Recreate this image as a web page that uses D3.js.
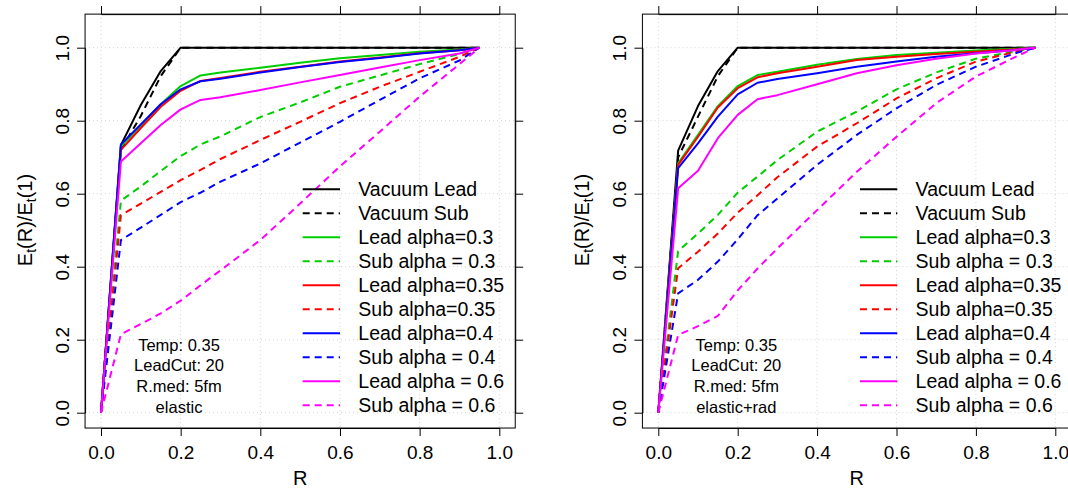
<!DOCTYPE html>
<html><head><meta charset="utf-8">
<script src="https://cdn.jsdelivr.net/npm/d3@7"></script>
<style>
body{margin:0;background:#fff}
svg{display:block}
text{font-family:"Liberation Sans",Arial,Helvetica,sans-serif;fill:#000}
</style>
</head><body><svg id="c" width="1068" height="488"></svg>
<script>
// ---------- data ----------
const R = [0, 0.05, 0.1, 0.15, 0.2, 0.25, 0.3, 0.4, 0.5, 0.6, 0.7, 0.8, 0.9, 0.95];
const xTicks = [0, 0.2, 0.4, 0.6, 0.8, 1.0];
const yTicks = [0, 0.2, 0.4, 0.6, 0.8, 1.0];
const tickLabels = ["0.0", "0.2", "0.4", "0.6", "0.8", "1.0"];
const seriesNames = ["Vacuum Lead", "Vacuum Sub", "Lead alpha=0.3", "Sub alpha = 0.3", "Lead alpha=0.35",
  "Sub alpha=0.35", "Lead alpha=0.4", "Sub alpha = 0.4", "Lead alpha = 0.6", "Sub alpha = 0.6"];
const seriesColors = ["#000000", "#000000", "#00CD00", "#00CD00", "#FF0000", "#FF0000", "#0000FF", "#0000FF", "#FF00FF", "#FF00FF"];
const seriesDashed = [false, true, false, true, false, true, false, true, false, true];

// left panel (elastic)
const vacLeadL = [0, 0.733, 0.843, 0.936, 1, 1, 1, 1, 1, 1, 1, 1, 1, 1];
const vacSubL  = [0, 0.720, 0.813, 0.922, 1, 1, 1, 1, 1, 1, 1, 1, 1, 1];
const lead03L  = [0, 0.729, 0.787, 0.845, 0.895, 0.924, 0.932, 0.945, 0.959, 0.971, 0.980, 0.989, 0.995, 1];
const sub03L   = [0, 0.581, 0.620, 0.662, 0.703, 0.735, 0.757, 0.810, 0.850, 0.893, 0.924, 0.955, 0.983, 1];
const lead035L = [0, 0.720, 0.780, 0.838, 0.882, 0.909, 0.917, 0.934, 0.948, 0.962, 0.973, 0.985, 0.993, 1];
const sub035L  = [0, 0.541, 0.573, 0.605, 0.637, 0.665, 0.695, 0.747, 0.797, 0.848, 0.893, 0.934, 0.975, 1];
const lead04L  = [0, 0.735, 0.790, 0.845, 0.886, 0.908, 0.915, 0.932, 0.947, 0.961, 0.972, 0.984, 0.993, 1];
const sub04L   = [0, 0.473, 0.507, 0.542, 0.577, 0.603, 0.633, 0.683, 0.740, 0.797, 0.857, 0.916, 0.965, 1];
const lead06L  = [0, 0.688, 0.738, 0.788, 0.831, 0.857, 0.864, 0.884, 0.905, 0.925, 0.946, 0.966, 0.984, 1];
const sub06L   = [0, 0.215, 0.243, 0.272, 0.307, 0.349, 0.390, 0.473, 0.573, 0.675, 0.770, 0.866, 0.955, 1];
const notesL = ["Temp: 0.35", "LeadCut: 20", "R.med: 5fm", "elastic"];

// right panel (elastic+rad)
const vacLeadR = [0, 0.718, 0.840, 0.936, 1, 1, 1, 1, 1, 1, 1, 1, 1, 1];
const vacSubR  = [0, 0.700, 0.811, 0.922, 1, 1, 1, 1, 1, 1, 1, 1, 1, 1];
const lead03R  = [0, 0.683, 0.761, 0.840, 0.895, 0.925, 0.934, 0.953, 0.969, 0.980, 0.986, 0.992, 0.997, 1];
const sub03R   = [0, 0.443, 0.491, 0.542, 0.603, 0.647, 0.692, 0.770, 0.825, 0.886, 0.932, 0.970, 0.990, 1];
const lead035R = [0, 0.679, 0.756, 0.836, 0.889, 0.919, 0.930, 0.948, 0.966, 0.975, 0.983, 0.989, 0.996, 1];
const sub035R  = [0, 0.396, 0.441, 0.491, 0.548, 0.596, 0.645, 0.729, 0.793, 0.861, 0.916, 0.962, 0.989, 1];
const lead04R  = [0, 0.670, 0.738, 0.811, 0.872, 0.904, 0.914, 0.930, 0.948, 0.962, 0.975, 0.985, 0.994, 1];
const sub04R   = [0, 0.327, 0.364, 0.414, 0.475, 0.541, 0.587, 0.679, 0.761, 0.834, 0.898, 0.948, 0.985, 1];
const lead06R  = [0, 0.615, 0.663, 0.752, 0.816, 0.859, 0.870, 0.900, 0.930, 0.952, 0.970, 0.984, 0.994, 1];
const sub06R   = [0, 0.213, 0.237, 0.265, 0.335, 0.395, 0.450, 0.555, 0.660, 0.756, 0.848, 0.921, 0.975, 1];
const notesR = ["Temp: 0.35", "LeadCut: 20", "R.med: 5fm", "elastic+rad"];

// ---------- drawing ----------
const svg = d3.select("#c");
svg.append("rect").attr("width", 1068).attr("height", 488).attr("fill", "#fff");

const FS_TICK = 19, FS_LEG = 19.5, FS_NOTE = 16.5, FS_TITLE = 20;
const DASH = "7,5";

function drawPanel(px0, px1, seriesList, notes) {
  const x = d3.scaleLinear().domain([0, 1]).range([px0, px1]);
  const y = d3.scaleLinear().domain([0, 1]).range([412.7, 47.7]);
  const bx0 = x(-0.04), bx1 = x(1.04), by0 = y(1.092), by1 = y(-0.042);
  const g = svg.append("g");

  // grid
  g.selectAll(".gx").data(xTicks).join("line")
    .attr("x1", d => x(d)).attr("x2", d => x(d)).attr("y1", by0).attr("y2", by1)
    .attr("stroke", "#d3d3d3").attr("stroke-width", 1).attr("stroke-dasharray", "1,3");
  g.selectAll(".gy").data(yTicks).join("line")
    .attr("x1", bx0).attr("x2", bx1).attr("y1", d => y(d)).attr("y2", d => y(d))
    .attr("stroke", "#d3d3d3").attr("stroke-width", 1).attr("stroke-dasharray", "1,3");

  // series
  const line = d3.line().x((d, i) => x(R[i])).y(d => y(d));
  seriesList.forEach((s, k) => {
    g.append("path").datum(s).attr("d", line).attr("fill", "none")
      .attr("stroke", seriesColors[k]).attr("stroke-width", 2)
      .attr("stroke-linejoin", "round")
      .attr("stroke-dasharray", seriesDashed[k] ? DASH : null);
  });

  // axes
  const ax = (gen, tr) => {
    const a = g.append("g").attr("transform", tr).call(gen);
    a.attr("font-family", null).attr("font-size", null);
    a.selectAll("path,line").attr("stroke", "#000").attr("stroke-width", 1);
    return a;
  };
  const bottom = ax(d3.axisBottom(x).tickValues(xTicks).tickSize(8).tickSizeOuter(0)
    .tickFormat((d, i) => tickLabels[i]), `translate(0,${by1})`);
  bottom.selectAll(".tick text").attr("y", 17.5).attr("dy", "0.71em").attr("font-size", FS_TICK);
  ax(d3.axisTop(x).tickValues(xTicks).tickSize(8).tickSizeOuter(0).tickFormat(""), `translate(0,${by0})`);
  ax(d3.axisRight(y).tickValues(yTicks).tickSize(8).tickSizeOuter(0).tickFormat(""), `translate(${bx1},0)`);
  const left = ax(d3.axisLeft(y).tickValues(yTicks).tickSize(8).tickSizeOuter(0)
    .tickFormat((d, i) => tickLabels[i]), `translate(${bx0},0)`);
  left.selectAll(".tick text").attr("x", 0).attr("dy", null).attr("y", 0)
    .attr("text-anchor", "middle").attr("font-size", FS_TICK)
    .attr("transform", "translate(-16.5,0) rotate(-90)");

  // box
  g.append("rect").attr("x", bx0).attr("y", by0).attr("width", bx1 - bx0).attr("height", by1 - by0)
    .attr("fill", "none").attr("stroke", "#000").attr("stroke-width", 1);

  // axis titles
  g.append("text").attr("x", (bx0 + bx1) / 2).attr("y", 484.5).attr("text-anchor", "middle")
    .attr("font-size", FS_TITLE).text("R");
  const yl = g.append("text").attr("text-anchor", "middle").attr("font-size", FS_TITLE)
    .attr("transform", `translate(${bx0 - 53},220) rotate(-90)`);
  yl.append("tspan").text("E");
  yl.append("tspan").attr("font-size", 14).attr("dy", 4).text("t");
  yl.append("tspan").attr("dy", -4).text("(R)/E");
  yl.append("tspan").attr("font-size", 14).attr("dy", 4).text("t");
  yl.append("tspan").attr("dy", -4).text("(1)");

  // legend
  const lx0 = px0 + 201.7, lx1 = px0 + 239, ltx = px0 + 257.3, ly0 = 189.3, lstep = 24;
  seriesNames.forEach((nm, k) => {
    const yy = ly0 + k * lstep;
    g.append("line").attr("x1", lx0).attr("x2", lx1).attr("y1", yy).attr("y2", yy)
      .attr("stroke", seriesColors[k]).attr("stroke-width", 2)
      .attr("stroke-dasharray", seriesDashed[k] ? DASH : null);
    g.append("text").attr("x", ltx).attr("y", yy + 6.8).attr("font-size", FS_LEG).text(nm);
  });

  // notes
  notes.forEach((t, k) => {
    g.append("text").attr("x", px0 + 78).attr("y", 350.7 + k * 20.7)
      .attr("text-anchor", "middle").attr("font-size", FS_NOTE).text(t);
  });
}

drawPanel(101, 499.3, [vacLeadL, vacSubL, lead03L, sub03L, lead035L, sub035L, lead04L, sub04L, lead06L, sub06L], notesL);
drawPanel(658.3, 1055.3, [vacLeadR, vacSubR, lead03R, sub03R, lead035R, sub035R, lead04R, sub04R, lead06R, sub06R], notesR);
</script>
</body></html>
